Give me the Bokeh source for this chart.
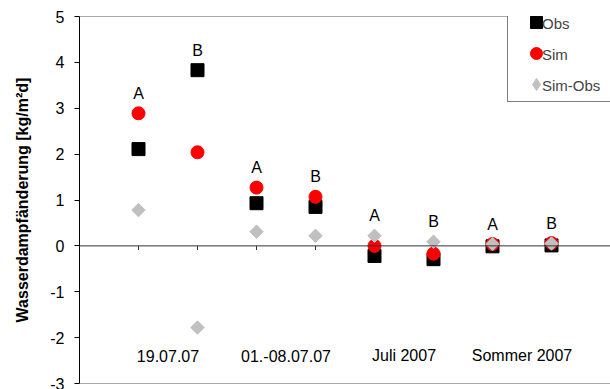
import math

from bokeh.core.properties import value
from bokeh.embed import file_html
from bokeh.models import (CDSView, ColumnDataSource, FixedTicker, IndexFilter,
                          Legend, LegendItem, PrintfTickFormatter, Range1d,
                          Span)
from bokeh.plotting import figure
from bokeh.resources import INLINE

# Daily water vapour change per case (A/B) within each period
positions = [1, 2, 3, 4, 5, 6, 7, 8]
cases = ["A", "B", "A", "B", "A", "B", "A", "B"]
obs = [2.11, 3.83, 0.93, 0.85, -0.22, -0.29, -0.01, 0.01]
sim = [2.89, 2.04, 1.27, 1.07, 0.00, -0.17, 0.04, 0.06]
sim_minus_obs = [0.78, -1.78, 0.31, 0.22, 0.22, 0.09, 0.04, 0.05]

periods = ["19.07.07", "01.-08.07.07", "Juli 2007", "Sommer 2007"]
period_centers = [1.5, 3.5, 5.5, 7.5]
y_ticks = [-3, -2, -1, 0, 1, 2, 3, 4, 5]
series_names = ["Obs", "Sim", "Sim-Obs"]

FONT = "Liberation Sans"
GREY = "#c0c0c0"

top_of_group = [max(a, b, c) for a, b, c in zip(obs, sim, sim_minus_obs)]
src = ColumnDataSource(dict(x=positions, obs=obs, sim=sim, diff=sim_minus_obs,
                            case=cases, top=top_of_group))

p = figure(width=610, height=389, output_backend="svg", toolbar_location=None,
           x_range=Range1d(0, 9), y_range=Range1d(-3, 5),
           x_axis_location=None,
           min_border_left=79, min_border_right=0,
           min_border_top=16, min_border_bottom=6)
p.outline_line_color = None
p.xgrid.visible = False
p.ygrid.visible = False
p.background_fill_color = "white"
p.border_fill_color = "white"

# y axis
ax = p.yaxis[0]
ax.ticker = FixedTicker(ticks=y_ticks)
ax.formatter = PrintfTickFormatter(format="%d")
ax.minor_tick_line_color = None
ax.major_tick_out = 5
ax.major_tick_in = 0
ax.major_label_standoff = 10
ax.major_label_text_font = FONT
ax.major_label_text_font_size = "16px"
ax.major_label_text_color = "black"
ax.axis_line_color = "black"
ax.major_tick_line_color = "black"
ax.axis_label = "Wasserdampfänderung [kg/m²d]"
ax.axis_label_text_font = FONT
ax.axis_label_text_font_size = "16px"
ax.axis_label_text_font_style = "bold"
ax.axis_label_text_color = "black"
ax.axis_label_standoff = 16

# frame top/bottom and zero line
for yv in (y_ticks[-1], y_ticks[0]):
    p.add_layout(Span(location=yv, dimension="width", line_color="#555555",
                      line_width=1))
p.add_layout(Span(location=0, dimension="width", line_color="#333333",
                  line_width=1))

# small category tick marks below the zero line
p.segment(x0=positions, x1=positions, y0=[0] * len(positions),
          y1=[-0.09] * len(positions), line_color="#333333", line_width=1)

r_obs = p.scatter("x", "obs", source=src, marker="square", size=13,
                  fill_color="black", line_color="black")
r_sim = p.scatter("x", "sim", source=src, marker="circle", size=13,
                  fill_color="#ff0000", line_color="#ff0000")
# plain diamond (used as the legend swatch), covered by the rotated square
r_diff_key = p.scatter("x", "diff", source=src, marker="diamond", size=12,
                       fill_color=GREY, line_color=GREY)
r_diff = p.scatter("x", "diff", source=src, marker="square", size=9.5,
                   angle=math.pi / 4, fill_color=GREY, line_color=GREY)

# invisible carriers for the legend labels
carriers = [p.scatter("x", "obs", source=src,
                      view=CDSView(filter=IndexFilter(indices=[])),
                      marker="circle", size=1, fill_alpha=0, line_alpha=0)
            for _ in series_names]

# case labels above the highest marker
p.text("x", "top", text="case", source=src, y_offset=-20,
       text_align="center", text_baseline="middle",
       text_font=value(FONT), text_font_size="16px", text_color="black")

# period names along the bottom
p.text(x=period_centers, y=[y_ticks[0]] * len(periods), text=periods,
       y_offset=-28, text_align="center", text_baseline="middle",
       text_font=value(FONT), text_font_size="16px", text_color="black")

common = dict(margin=0, padding=2, spacing=1, glyph_height=30,
              label_height=30, label_text_font=FONT,
              label_text_font_size="15px")

# boxed legend with the marker swatches
key_box = Legend(items=[LegendItem(label=" ", renderers=[r])
                        for r in (r_obs, r_sim, r_diff_key)],
                 location=(428, 281),
                 glyph_width=52, label_width=60, label_standoff=5,
                 border_line_color="black", border_line_width=1,
                 background_fill_color="white", background_fill_alpha=1.0,
                 **common)
# series names laid over the box
key_text = Legend(items=[LegendItem(label=n, renderers=[c])
                         for n, c in zip(series_names, carriers)],
                  location=(430, 283),
                  glyph_width=28, label_standoff=5,
                  border_line_color=None, background_fill_alpha=0,
                  **common)
p.add_layout(key_box)
p.add_layout(key_text)

open("out.html", "w").write(file_html(p, INLINE))
